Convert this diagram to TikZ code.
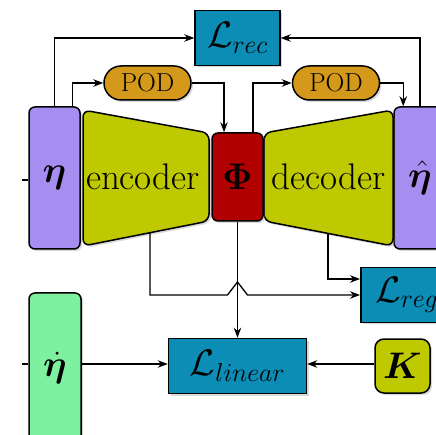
\RequirePackage{fix-cm}
\documentclass[tikz,border=0pt]{standalone}
\usepackage{amsmath,bm}
\usepackage{xcolor}
\definecolor{lossBlue}{HTML}{0C8DB5}
\definecolor{podGold}{HTML}{D4991A}
\definecolor{stateLilac}{HTML}{A68DF0}
\definecolor{netLime}{HTML}{BFC900}
\definecolor{latentRed}{HTML}{B10000}
\definecolor{rateMint}{HTML}{7FF0A0}
\usepackage{tikz}
\usetikzlibrary{positioning,arrows.meta,calc,shadows}

\begin{document}
\begin{tikzpicture}[x=1pt,y=-1pt,
      every node/.style={font=\fontsize{37}{44}\selectfont},
      blk/.style={rectangle,rounded corners=6pt,draw=black,line width=1.5pt,
                  inner sep=0pt,align=center,
                  drop shadow={opacity=0.3,shadow xshift=2pt,shadow yshift=-2pt}},
      statebox/.style={blk,fill=stateLilac,minimum width=51pt,minimum height=142pt},
      lossbox/.style={blk,rounded corners=0pt,fill=lossBlue,minimum height=55pt},
      podbox/.style={blk,rounded corners=17pt,fill=podGold,minimum width=87pt,
                     minimum height=34pt,font=\fontsize{26}{30}\selectfont},
      net/.style={draw=black,line width=1.5pt,rounded corners=7pt,fill=netLime,
                  drop shadow={opacity=0.3,shadow xshift=2pt,shadow yshift=-2pt}},
      arr/.style={-{Stealth[length=10pt,width=7.5pt]},line width=1.3pt},
      wire/.style={line width=1.3pt},
    ]
    \useasboundingbox (0,0) rectangle (436,435);
    \clip (0,0) rectangle (436,435);

    % --- states ---
    \node[statebox] (eta) at (54.5,178) {$\bm{\eta}$};
    \node[statebox,minimum width=52pt] (etahat) at (420,178) {$\hat{\bm{\eta}}$};
    \node[statebox,fill=rateMint,minimum width=52pt,minimum height=150pt] (etadot) at (55,368) {$\dot{\bm{\eta}}$};

    % --- encoder / latent / decoder ---
    \draw[net] (83,110) -- (209,133) -- (209,221) -- (83,246) -- cycle;
    \draw[net] (264,133) -- (393,110) -- (393,246) -- (264,221) -- cycle;
    \node (enc) at (143,177) {encoder};
    \node (dec) at (328.5,177) {decoder};
    \node[blk,fill=latentRed,minimum width=51pt,minimum height=88pt] (phi) at (237.5,177) {$\bm{\Phi}$};
    \coordinate (encout) at (150,233);
    \coordinate (decout) at (328,233);

    % --- POD branches ---
    \node[podbox] (podA) at (147.5,83) {POD};
    \node[podbox] (podB) at (336,83) {POD};

    % --- losses ---
    \node[lossbox,minimum width=85pt] (lrec) at (237.5,38) {$\mathcal{L}_{rec}$};
    \node[lossbox,minimum width=92pt,anchor=west] (lreg) at (360,295) {$\mathcal{L}_{reg}$};
    \node[lossbox,minimum width=138pt] (llin) at (237.5,366) {$\mathcal{L}_{linear}$};
    \node[blk,rounded corners=9pt,fill=netLime,minimum width=55pt,minimum height=54pt] (kmat) at (402.5,366) {$\bm{K}$};

    % --- incoming stubs ---
    \coordinate (inA) at (22,180);
    \coordinate (inB) at (22,364);
    \draw[wire] (inA) -- (inA -| eta.west);
    \draw[wire] (inB) -- (inB -| etadot.west);

    % --- reconstruction ---
    \draw[arr] (eta.north) |- (lrec.west);
    \draw[arr] (etahat.north) |- (lrec.east);

    % --- POD paths ---
    \draw[arr] ([xshift=-8pt]eta.north east) |- (podA.west);
    \draw[arr] (podA.east) -| ([xshift=-13.5pt]phi.north);
    \draw[arr] ([xshift=15.5pt]phi.north) |- (podB.west);
    \draw[arr] (podB.east) -| ([xshift=10pt]etahat.north west);

    % --- regularisation, with a hop over the latent line ---
    \draw[arr] (encout) |- ($(phi.south |- lreg.west)+(-10,0)$)
      -- ++(10,-13) -- ++(10,13) -- (lreg.west);
    \draw[arr] (decout) |- ([yshift=16pt]lreg.west);

    % --- linear dynamics ---
    \draw[arr] (phi.south) -- (llin.north);
    \draw[arr] (etadot.east |- inB) -- (inB -| llin.west);
    \draw[arr] (kmat.west |- inB) -- (inB -| llin.east);

  \end{tikzpicture}
\end{document}
